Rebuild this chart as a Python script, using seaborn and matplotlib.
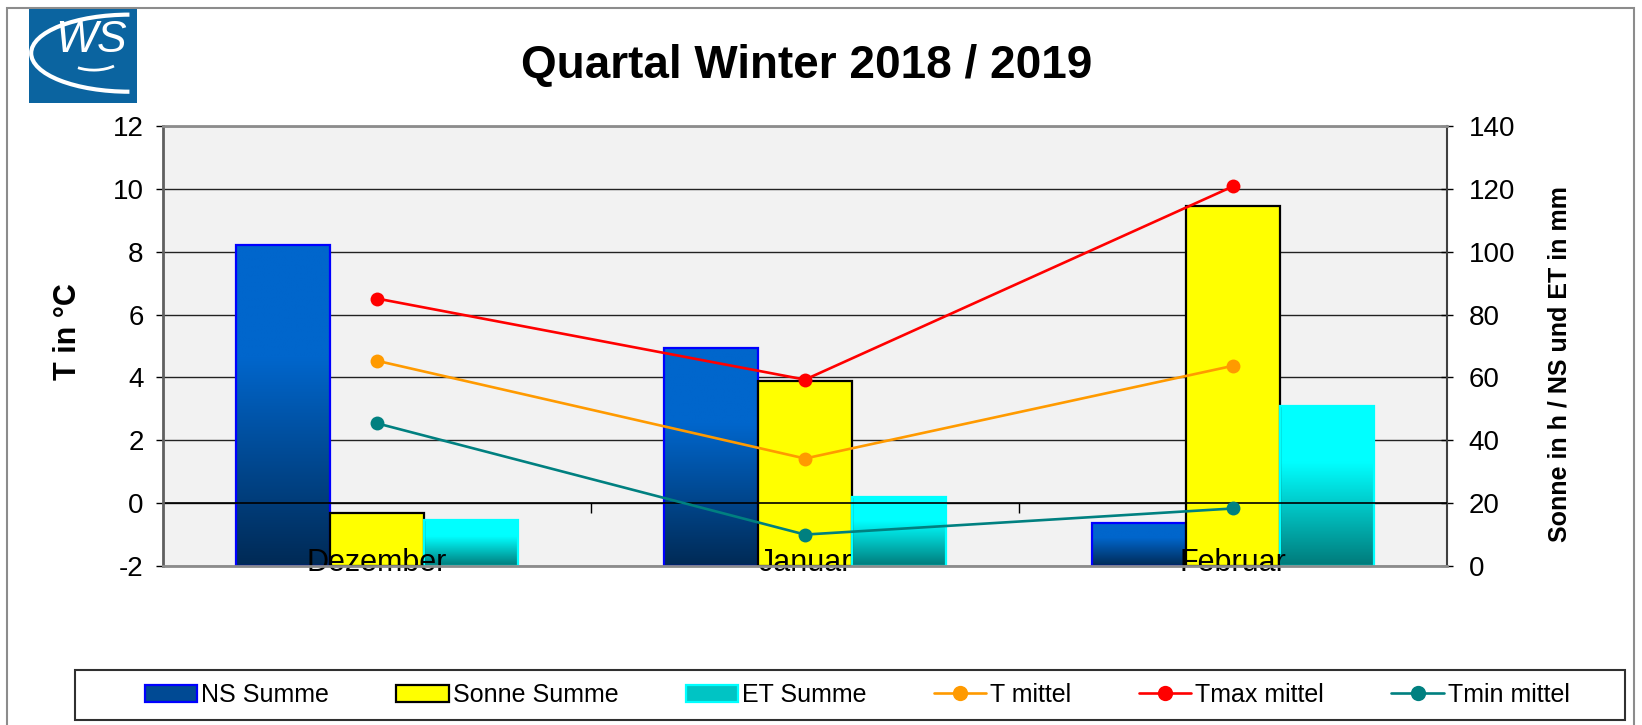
import numpy as np
import pandas as pd
import matplotlib
matplotlib.use("Agg")
import matplotlib.pyplot as plt
import seaborn as sns
from matplotlib.patches import Rectangle, Arc, Patch
from matplotlib.lines import Line2D

# Daten
months = ["Dezember", "Januar", "Februar"]
ns_summe = [102.0, 69.5, 13.8]
sonne_summe = [17.0, 59.0, 114.6]
et_summe = [14.6, 22.1, 50.9]
t_mittel = [4.53, 1.42, 4.37]
tmax_mittel = [6.51, 3.93, 10.08]
tmin_mittel = [2.54, -1.0, -0.17]

bar_names = ["NS Summe", "Sonne Summe", "ET Summe"]
line_names = ["T mittel", "Tmax mittel", "Tmin mittel"]
bar_colors = ["#0066CC", "#FFFF00", "#00FFFF"]
bar_edges = ["#0000FF", "#000000", "#00FFFF"]
line_colors = ["#FF9A00", "#FF0000", "#008080"]

df = pd.DataFrame({
    "Monat": months * 3,
    "Serie": np.repeat(bar_names, len(months)),
    "Wert": ns_summe + sonne_summe + et_summe,
})

sns.set_theme(style="white")
plt.rcParams["font.family"] = ["Liberation Sans", "DejaVu Sans"]
plt.rcParams["axes.unicode_minus"] = False
plt.rcParams["text.color"] = "black"
plt.rcParams["axes.labelcolor"] = "black"

W, H = 1642, 725
fig = plt.figure(figsize=(W / 100, H / 100), dpi=100)

# Hauptachsen: links Temperatur (oben), rechts Summen (Balken, unten)
ax = fig.add_axes([163 / W, 1 - 566 / H, 1284 / W, 440 / H])
ax2 = ax.twinx()
ax.set_zorder(ax2.get_zorder() + 1)
ax.patch.set_visible(False)
ax2.patch.set_visible(True)
ax2.set_facecolor("#F2F2F2")

sns.barplot(data=df, x="Monat", y="Wert", hue="Serie", order=months,
            hue_order=bar_names, palette=bar_colors, width=0.66,
            saturation=1, errorbar=None, legend=False, ax=ax2)


def gradient(top, bottom, n=200, solid=0.35):
    top = np.array(matplotlib.colors.to_rgb(top))
    bottom = np.array(matplotlib.colors.to_rgb(bottom))
    t = np.linspace(0, 1, n)
    f = np.clip((t - solid) / (1 - solid), 0, 1)
    cols = top[None, :] * (1 - f[:, None]) + bottom[None, :] * f[:, None]
    return cols[:, None, :]


grads = {"NS Summe": gradient("#0066CC", "#002A55"),
         "ET Summe": gradient("#00FFFF", "#007A7A")}

for cont, name, edge in zip(ax2.containers, bar_names, bar_edges):
    for bar in cont:
        x, y = bar.get_x(), bar.get_y()
        w, h = bar.get_width(), bar.get_height()
        if name in grads:
            ax2.imshow(grads[name], extent=[x, x + w, y, y + h], aspect="auto",
                       origin="upper", zorder=2, interpolation="bilinear")
            bar.set_facecolor("none")
        bar.set_edgecolor(edge)
        bar.set_linewidth(1.6)
        bar.set_zorder(3)

ax2.set_xlim(-0.5, len(months) - 0.5)
ax2.set_ylim(0, 140)
ax2.set_yticks(range(0, 141, 20))
ax2.set_axisbelow(True)
ax2.grid(axis="y", color="#222222", linewidth=1)
ax2.grid(axis="x", visible=False)
ax2.tick_params(axis="y", direction="inout", length=9, width=1, pad=11,
                labelsize=20, colors="black", right=True)
ax2.set_xlabel("")
ax2.set_ylabel("Sonne in h / NS und ET in mm", fontsize=18, fontweight="bold", va="center")
ax2.yaxis.set_label_coords(1.088, 0.459)
for s in ["top", "bottom", "left"]:
    ax2.spines[s].set_visible(False)
ax2.spines["right"].set_color("#404040")
ax2.spines["right"].set_linewidth(1.5)

# Temperaturlinien
xpos = np.arange(len(months))
for vals, col in zip([t_mittel, tmax_mittel, tmin_mittel], line_colors):
    sns.lineplot(x=xpos, y=vals, ax=ax, color=col, marker="o", markersize=10,
                 linewidth=1.9, markeredgewidth=0, legend=False, zorder=4)

ax.axhline(0, color="black", linewidth=1.2, zorder=1.5)
ax.vlines(xpos[:-1] + 0.5, -0.3, 0, color="black", linewidth=1)
ax.set_xlim(-0.5, len(months) - 0.5)
ax.set_ylim(-2, 12)
ax.set_yticks(range(-2, 13, 2))
ax.set_xticks(xpos, months)
ax.tick_params(axis="x", length=0, pad=-13, labelsize=22, colors="black")
ax.tick_params(axis="y", direction="out", length=5, width=1, pad=9,
               labelsize=20, colors="black", left=True)
ax.set_ylabel("T in °C", fontsize=22, fontweight="bold", va="center")
ax.yaxis.set_label_coords(-0.074, 0.532)
ax.spines["right"].set_visible(False)
ax.spines["left"].set_color("#606060")
ax.spines["left"].set_linewidth(2)
for s in ["top", "bottom"]:
    ax.spines[s].set_color("#8C8C8C")
    ax.spines[s].set_linewidth(2)

# Titel
fig.text(807 / W, 1 - 66 / H, "Quartal Winter 2018 / 2019", ha="center", va="center",
         fontsize=33, fontweight="bold", color="black")

# Legende
handles = [Patch(facecolor="#004A94", edgecolor="#0000FF", linewidth=1.6),
           Patch(facecolor="#FFFF00", edgecolor="#000000", linewidth=1.6),
           Patch(facecolor="#00C4C4", edgecolor="#00FFFF", linewidth=1.6)]
handles += [Line2D([], [], color=c, marker="o", markersize=11, linewidth=1.9,
                   markeredgewidth=0) for c in line_colors]
fig.legend(handles, bar_names + line_names, loc="center",
           bbox_to_anchor=(857 / W, 1 - 695 / H), ncol=6, frameon=False,
           fontsize=18, handlelength=2.1, handletextpad=0.15, columnspacing=2.7,
           handleheight=0.7, labelcolor="black")
fig.add_artist(Rectangle((75 / W, 1 - 720 / H), 1550 / W, 50 / H,
                         transform=fig.transFigure, fill=False,
                         edgecolor="#303030", linewidth=1.5))

# Rahmen um das ganze Diagramm
fig.add_artist(Rectangle((7 / W, -0.05), (1634 - 7) / W, 1 - 8 / H + 0.05,
                         transform=fig.transFigure, fill=False,
                         edgecolor="#8C8C8C", linewidth=1.5, zorder=-1, clip_on=False))

# Logo
lax = fig.add_axes([29 / W, 1 - 103 / H, 108 / W, 94 / H])
lax.set_facecolor("#0B64A0")
lax.set_xlim(0, 1)
lax.set_ylim(0, 1)
lax.set_xticks([])
lax.set_yticks([])
for s in lax.spines.values():
    s.set_visible(False)
lax.text(0.575, 0.66, "WS", color="white", fontsize=32, style="italic",
         ha="center", va="center")
lax.add_patch(Arc((0.93, 0.53), 1.82, 0.82, theta1=90, theta2=270,
                  color="white", linewidth=3))
lax.add_patch(Arc((0.6, 0.55), 0.6, 0.4, theta1=230, theta2=320,
                  color="white", linewidth=2))

fig.savefig("out.png", dpi=100)
